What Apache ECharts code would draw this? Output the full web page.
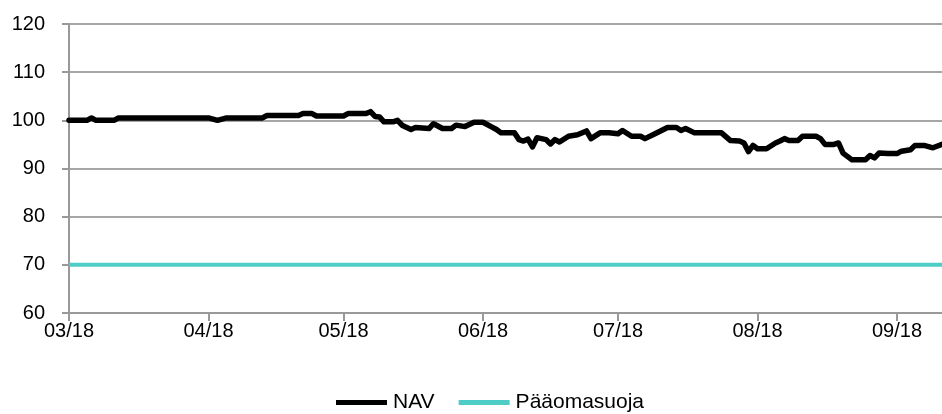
<!DOCTYPE html>
<html>
<head>
<meta charset="utf-8">
<script src="https://cdn.jsdelivr.net/npm/echarts@6/dist/echarts.min.js"></script>
<style>
html,body{margin:0;padding:0;background:#fff;}
#chart{width:942px;height:414px;}
</style>
</head>
<body>
<div id="chart"></div>
<script>
// NAV dates and values
const navDates = [
'2018-03-01','2018-03-05','2018-03-06','2018-03-07','2018-03-11','2018-03-12','2018-04-01','2018-04-03','2018-04-05','2018-04-13',
'2018-04-14','2018-04-21','2018-04-22','2018-04-24','2018-04-25','2018-05-01','2018-05-02','2018-05-06','2018-05-07','2018-05-08',
'2018-05-09','2018-05-10','2018-05-12','2018-05-13','2018-05-14','2018-05-16','2018-05-17','2018-05-20','2018-05-21','2018-05-23',
'2018-05-25','2018-05-26','2018-05-28','2018-05-30','2018-06-01','2018-06-03','2018-06-04','2018-06-05','2018-06-08','2018-06-09',
'2018-06-10','2018-06-11','2018-06-12','2018-06-13','2018-06-15','2018-06-16','2018-06-17','2018-06-18','2018-06-20','2018-06-22',
'2018-06-24','2018-06-25','2018-06-27','2018-06-29','2018-07-01','2018-07-02','2018-07-04','2018-07-06','2018-07-07','2018-07-09',
'2018-07-12','2018-07-14','2018-07-15','2018-07-16','2018-07-18','2018-07-24','2018-07-26','2018-07-28','2018-07-29','2018-07-30',
'2018-07-31','2018-08-01','2018-08-03','2018-08-05','2018-08-06','2018-08-07','2018-08-08','2018-08-10','2018-08-11','2018-08-14',
'2018-08-15','2018-08-16','2018-08-18','2018-08-19','2018-08-20','2018-08-22','2018-08-25','2018-08-26','2018-08-27','2018-08-28',
'2018-08-30','2018-09-01','2018-09-02','2018-09-04','2018-09-05','2018-09-07','2018-09-09','2018-09-11'
];
const navValues = [
100,100,100.5,100,100,100.5,100.5,100,100.5,100.5,
101,101,101.4,101.4,100.9,100.9,101.4,101.4,101.8,100.8,
100.7,99.7,99.7,100,99,98.1,98.5,98.3,99.3,98.3,
98.3,99,98.7,99.6,99.6,98.6,98.1,97.4,97.4,96,
95.7,96.1,94.5,96.4,96,95.1,96,95.5,96.7,97,
97.8,96.2,97.4,97.4,97.2,97.9,96.7,96.7,96.2,97.1,
98.5,98.5,97.9,98.3,97.4,97.4,95.8,95.7,95.3,93.5,
94.8,94.1,94.1,95.3,95.7,96.2,95.8,95.8,96.7,96.7,
96.2,95,95,95.3,93.2,91.8,91.8,92.7,92.2,93.2,
93.1,93.1,93.6,93.9,94.8,94.8,94.3,95
];
// Pääomasuoja (capital protection level)
const protDates = ['2018-03-01','2018-09-11'];
const protValues = [70,70];
const seriesNames = ['NAV','Pääomasuoja'];
const yMin = 60, yMax = 120, yStep = 10;
const xMin = '2018-03-01', xMax = '2018-09-11';

const font = "'Liberation Sans', Arial, sans-serif";
const chart = echarts.init(document.getElementById('chart'), null, {renderer:'canvas'});
chart.setOption({
  animation:false,
  backgroundColor:'#ffffff',
  grid:{left:69,right:0,top:24,bottom:101,containLabel:false},
  legend:{
    data:seriesNames,
    left:336,
    top:392,
    padding:0,
    icon:'rect',
    itemWidth:51,
    itemHeight:5,
    itemGap:24,
    textStyle:{fontFamily:font,fontSize:21,color:'#000',padding:[0,0,0,1]}
  },
  xAxis:{
    type:'time',
    min:xMin,
    max:xMax,
    minInterval:28*86400000,
    maxInterval:31*86400000,
    axisLine:{show:true,lineStyle:{color:'#999',width:2}},
    axisTick:{show:true,inside:false,length:8,lineStyle:{color:'#999',width:2}},
    splitLine:{show:false},
    axisLabel:{
      fontFamily:font,fontSize:20,color:'#000',margin:8,
      formatter:function(v){
        const d=new Date(v);
        const m=String(d.getMonth()+1).padStart(2,'0');
        const y=String(d.getFullYear()).slice(2);
        return m+'/'+y;
      },
      hideOverlap:false
    }
  },
  yAxis:{
    type:'value',
    min:yMin,max:yMax,interval:yStep,
    axisLine:{show:true,lineStyle:{color:'#999',width:2}},
    axisTick:{show:true,inside:false,length:7,lineStyle:{color:'#999',width:2}},
    splitLine:{show:true,lineStyle:{color:'#a6a6a6',width:2}},
    axisLabel:{fontFamily:font,fontSize:20,color:'#000',margin:24}
  },
  series:[
    {
      name:seriesNames[0],
      type:'line',
      data:navDates.map((d,i)=>[d,navValues[i]]),
      showSymbol:false,
      symbol:'none',
      lineStyle:{color:'#000',width:5.5,join:'round',cap:'round'},
      itemStyle:{color:'#000'},
      z:3
    },
    {
      name:seriesNames[1],
      type:'line',
      data:protDates.map((d,i)=>[d,protValues[i]]),
      showSymbol:false,
      symbol:'none',
      lineStyle:{color:'#4ECDC6',width:4},
      itemStyle:{color:'#4ECDC6'},
      z:3
    }
  ]
});
</script>
</body>
</html>
